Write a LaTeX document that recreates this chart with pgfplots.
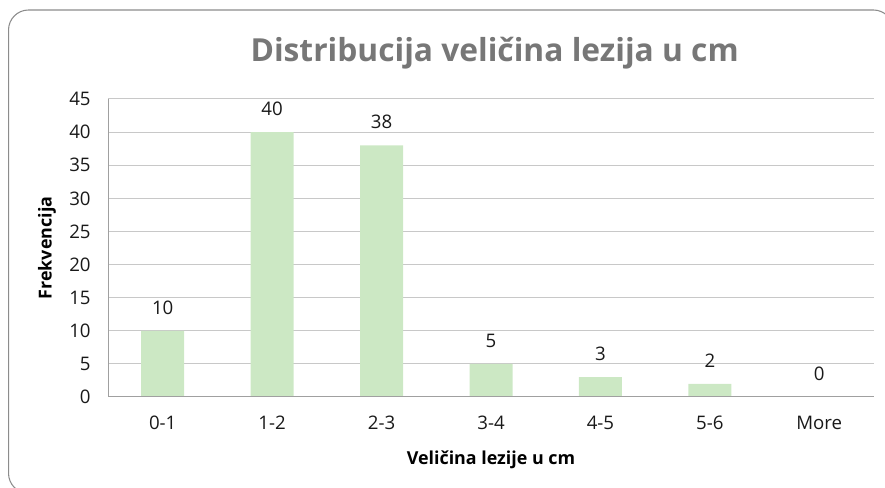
\documentclass[border=0pt]{standalone}
\usepackage{fontspec}
\setmainfont{Open Sans}
\usepackage{pgfplots}
\pgfplotsset{compat=1.18}
\definecolor{barfill}{RGB}{204,232,196}
\definecolor{titlecol}{RGB}{119,119,119}
\definecolor{gridcol}{RGB}{200,200,200}
\definecolor{axiscol}{RGB}{160,160,160}
\definecolor{framecol}{RGB}{140,140,140}
\begin{document}
\begin{tikzpicture}
% page = 885 x 488 px, 1 px = 0.75pt
\useasboundingbox (0,0) rectangle (663.75pt,366pt);
\draw[framecol, line width=0.8pt, rounded corners=15pt] (6.4pt,-4pt) rectangle (670pt,358.5pt);

\node[anchor=base, text=titlecol, inner sep=0pt, font=\fontsize{23.8}{27}\selectfont\bfseries]
    at (371pt,319.7pt) {Distribucija veličina lezija u cm};

\begin{axis}[
    scale only axis,
    width=574.5pt,
    height=223.5pt,
    at={(81pt,68.25pt)},
    anchor=south west,
    ybar,
    bar width=0.393,
    xmin=-0.5, xmax=6.5,
    ymin=0, ymax=45,
    ytick={0,5,...,45},
    xtick={0,...,6},
    xticklabels={0-1,1-2,2-3,3-4,4-5,5-6,More},
    ymajorgrids=true,
    grid style={gridcol, line width=0.75pt},
    axis line style={draw=none},
    major tick length=0pt,
    /pgf/number format/assume math mode=true,
    tick label style={font=\fontsize{14}{16}\selectfont, text=black!90},
    yticklabel style={xshift=-9.5pt},
    xticklabel style={yshift=-11pt},
    nodes near coords,
    every node near coord/.append style={font=\fontsize{14}{16}\selectfont,
        text=black!90, inner sep=0pt, yshift=12pt},
    xlabel={Veličina lezije u cm},
    ylabel={Frekvencija},
    xlabel style={at={(axis description cs:0.5,-0.2114)}, anchor=center,
        font=\fontsize{13.4}{16}\selectfont\bfseries},
    ylabel style={at={(axis description cs:-0.0797,0.5)}, anchor=center, rotate=0,
        font=\fontsize{13.4}{16}\selectfont\bfseries},
]

\addplot[fill=barfill, draw=none] coordinates {
    (0,10) (1,40) (2,38) (3,5) (4,3) (5,2) (6,0)
};

\draw[axiscol, line width=0.75pt] (rel axis cs:0,0) -- (rel axis cs:1,0);
\draw[axiscol, line width=0.75pt] (rel axis cs:0,0) -- (rel axis cs:0,1);

\end{axis}
\end{tikzpicture}
\end{document}
